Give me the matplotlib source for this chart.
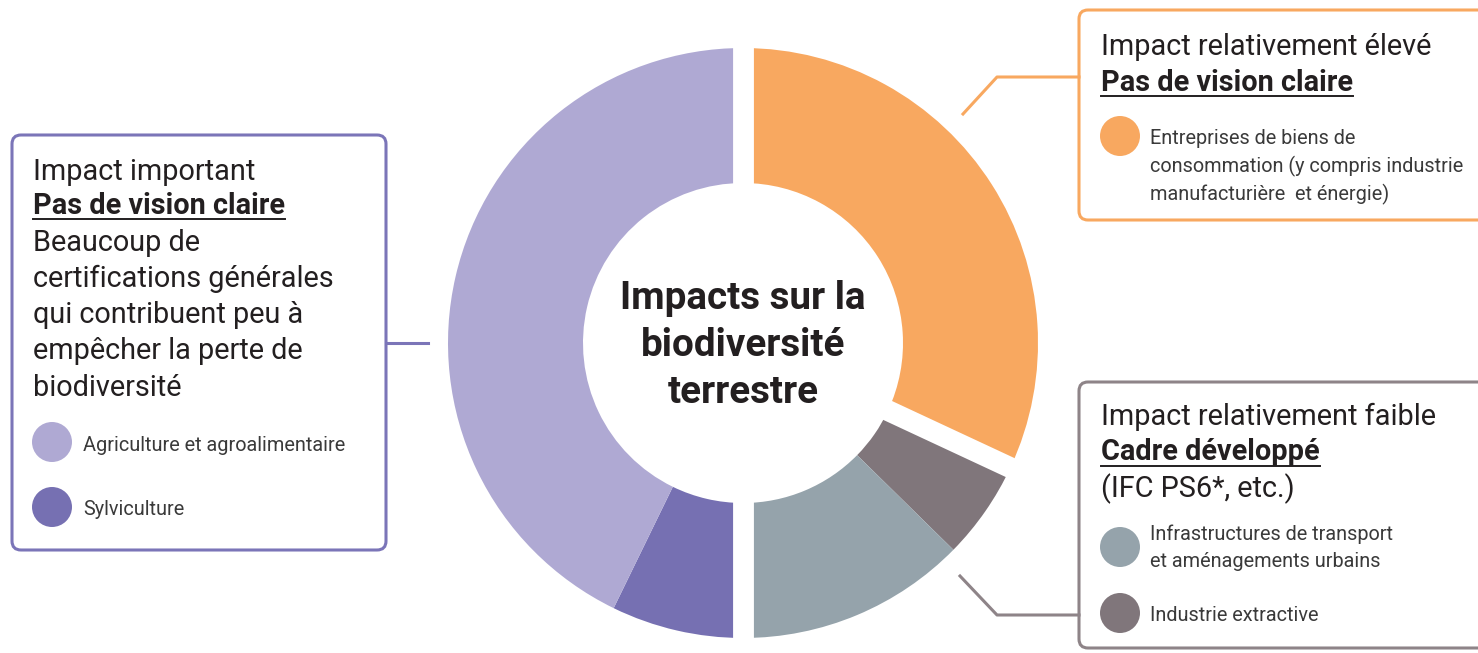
import matplotlib
matplotlib.use("Agg")
from matplotlib import pyplot as plt
from matplotlib.patches import FancyBboxPatch, Circle
import numpy as np

plt.rcParams['font.family'] = ['Roboto', 'DejaVu Sans']

# slice sizes in degrees, clockwise from the top
sectors = ['Entreprises de biens de consommation', 'Industrie extractive',
           'Infrastructures de transport', 'Sylviculture', 'Agriculture et agroalimentaire']
values = [115, 19.5, 45.5, 26, 154]
colors = ['#F8A860', '#80767B', '#95A3AB', '#7670B2', '#AFA9D3']

center_title = 'Impacts sur la\nbiodiversité\nterrestre'

left_lines = ['Impact important', 'Pas de vision claire', 'Beaucoup de',
              'certifications générales', 'qui contribuent peu à',
              'empêcher la perte de', 'biodiversité']
left_legend = ['Agriculture et agroalimentaire', 'Sylviculture']

top_lines = ['Impact relativement élevé', 'Pas de vision claire']
top_legend = ['Entreprises de biens de', 'consommation (y compris industrie',
              'manufacturière  et énergie)']

bot_lines = ['Impact relativement faible', 'Cadre développé', '(IFC PS6*, etc.)']
bot_legend1 = ['Infrastructures de transport', 'et aménagements urbains']
bot_legend2 = ['Industrie extractive']

W, H = 1478, 653
fig = plt.figure(figsize=(W / 100, H / 100), dpi=100)
ax = fig.add_axes([0, 0, 1, 1])

def Y(y):
    return H - y

txt = '#231F20'
txt2 = '#3A3A3A'
cx, cy = 743, Y(343)
R, r_in = 295, 160

ax.pie(values, colors=colors, startangle=90, counterclock=False, radius=R,
       center=(cx, cy), wedgeprops=dict(width=R - r_in, linewidth=0), frame=True)
ax.set_xlim(0, W)
ax.set_ylim(0, H)
ax.set_aspect('equal')
ax.axis('off')

# white gaps: vertical split and one between orange and grey
ax.plot([cx, cx], [cy - R - 5, cy + R + 5], color='white', lw=15, solid_capstyle='butt', zorder=3)
ang = np.deg2rad(90 - values[0])
ax.plot([cx, cx + (R + 10) * np.cos(ang)], [cy, cy + (R + 10) * np.sin(ang)],
        color='white', lw=15, solid_capstyle='butt', zorder=3)

title_lines = center_title.split('\n')
for i, s in enumerate(title_lines):
    ax.text(cx, Y(309 + 47 * i), s, ha='center', va='baseline', fontsize=27.8,
            fontweight='bold', color=txt)

def box(x0, y0, x1, y1, col):
    p = FancyBboxPatch((x0, Y(y1)), x1 - x0, y1 - y0, boxstyle='round,pad=0,rounding_size=9',
                       facecolor='white', edgecolor=col, lw=2.2, zorder=2)
    ax.add_patch(p)

purple = '#7B75B8'
orange = '#F8A860'
grey = '#8E8488'

box(12, 135, 386, 550, purple)
box(1079, 10, 1500, 220, orange)
box(1079, 382, 1500, 648, grey)

# connectors
ax.plot([386, 428], [Y(343), Y(343)], color=purple, lw=2.2)
ax.plot([963, 997, 1079], [Y(114), Y(77), Y(77)], color=orange, lw=2.2)
ax.plot([960, 997, 1079], [Y(576), Y(615), Y(615)], color=grey, lw=2.2)

big = 20.8
small = 14.3
under = []

# left box
ys = [180, 214, 251, 287, 323, 359, 396]
for i, s in enumerate(left_lines):
    t = ax.text(33, Y(ys[i]), s, ha='left', va='baseline', fontsize=big, color=txt,
                fontweight='bold' if i == 1 else 'normal', zorder=4)
    if i == 1:
        under.append((t, 219))
ax.add_patch(Circle((52, Y(442)), 20, color=colors[4], lw=0, zorder=4))
ax.text(83, Y(451), left_legend[0], ha='left', va='baseline', fontsize=small, color=txt2, zorder=4)
ax.add_patch(Circle((52, Y(507)), 20, color=colors[3], lw=0, zorder=4))
ax.text(83, Y(515), left_legend[1], ha='left', va='baseline', fontsize=small, color=txt2, zorder=4)

# top right box
ax.text(1101, Y(55), top_lines[0], ha='left', va='baseline', fontsize=big, color=txt, zorder=4)
t = ax.text(1101, Y(91), top_lines[1], ha='left', va='baseline', fontsize=big, fontweight='bold', color=txt, zorder=4)
under.append((t, 96))
ax.add_patch(Circle((1120, Y(136)), 20, color=colors[0], lw=0, zorder=4))
for i, s in enumerate(top_legend):
    ax.text(1150, Y(144 + 28 * i), s, ha='left', va='baseline', fontsize=small, color=txt2, zorder=4)

# bottom right box
ax.text(1101, Y(425), bot_lines[0], ha='left', va='baseline', fontsize=big, color=txt, zorder=4)
t = ax.text(1101, Y(460), bot_lines[1], ha='left', va='baseline', fontsize=big, fontweight='bold', color=txt, zorder=4)
under.append((t, 466))
ax.text(1101, Y(497), bot_lines[2], ha='left', va='baseline', fontsize=big, color=txt, zorder=4)
ax.add_patch(Circle((1120, Y(547)), 20, color=colors[2], lw=0, zorder=4))
for i, s in enumerate(bot_legend1):
    ax.text(1150, Y(540 + 27 * i), s, ha='left', va='baseline', fontsize=small, color=txt2, zorder=4)
ax.add_patch(Circle((1120, Y(613)), 20, color=colors[1], lw=0, zorder=4))
ax.text(1150, Y(621), bot_legend2[0], ha='left', va='baseline', fontsize=small, color=txt2, zorder=4)

# underlines
fig.canvas.draw()
rend = fig.canvas.get_renderer()
for t, yy in under:
    bb = t.get_window_extent(rend).transformed(ax.transData.inverted())
    ax.plot([bb.x0, bb.x1], [Y(yy), Y(yy)], color=txt, lw=1.4, zorder=4)

fig.savefig('out.png', dpi=100)
